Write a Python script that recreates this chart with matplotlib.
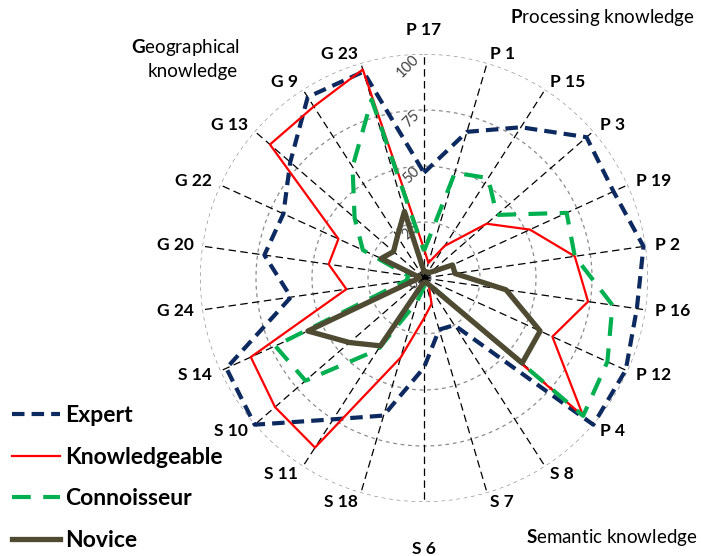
import numpy as np
import matplotlib
matplotlib.use("Agg")
import matplotlib.pyplot as plt
from matplotlib.lines import Line2D

plt.rcParams['font.family'] = ['Lato', 'DejaVu Sans']
plt.rcParams['mathtext.fontset'] = 'custom'
plt.rcParams['mathtext.rm'] = 'Lato'
plt.rcParams['mathtext.bf'] = 'Lato:bold'


categories = ['P 17', 'P 1', 'P 15', 'P 3', 'P 19', 'P 2', 'P 16', 'P 12', 'P 4',
              'S 8', 'S 7', 'S 6', 'S 18', 'S 11', 'S 10', 'S 14',
              'G 24', 'G 20', 'G 22', 'G 13', 'G 9', 'G 23']

expert = [47, 68, 80, 96, 93, 99, 96, 99, 100, 25, 24, 40, 64, 75, 100, 97,
          60, 72, 69, 79, 96, 96]
knowledgeable = [13, 7, 17, 37, 52, 68, 74, 63, 94, 4, 12, 18, 37, 90, 88, 85,
                 35, 43, 42, 91, 91, 97]
connoisseur = [12, 49, 53, 43, 70, 68, 85, 90, 94, 2, 2, 4, 11, 38, 70, 73,
               8, 7, 30, 41, 59, 83]
novice = [3, 3, 3, 4, 14, 14, 37, 57, 58, 3, 2, 2, 3, 36, 44, 57,
          3, 2, 21, 18, 22, 31]

ticks = [0, 25, 50, 75, 100]


#######################################################################################

fig = plt.figure(figsize=(7.01, 5.56), dpi=100)
ax = fig.add_axes([200 / 701, 54 / 556, 448 / 701, 448 / 556], projection='polar')
ax.set_theta_zero_location('N')
ax.set_theta_direction(-1)
ax.set_ylim(0, 100)
ax.axis('off')

n = len(categories)
angles = np.arange(n) * 2 * np.pi / n

# rings
t = np.linspace(0, 2 * np.pi, 400)
for r in ticks[1:]:
    ax.plot(t, np.full_like(t, r), color='#8c8c8c', lw=0.9, dashes=(3, 3), zorder=1)

# spokes
for a in angles:
    ax.plot([a, a], [0, 100], color='black', lw=0.9, dashes=(6, 3.5), zorder=2)


def closed(values):
    return np.append(angles, angles[0]), np.append(values, values[0])


a, v = closed(expert)
ax.plot(a, v, color='#0d2a60', lw=3, dashes=(3, 1.7), zorder=3, clip_on=False)
a, v = closed(knowledgeable)
ax.plot(a, v, color='#ff0000', lw=1.6, zorder=4, clip_on=False)
a, v = closed(connoisseur)
ax.plot(a, v, color='#00b050', lw=3, dashes=(4.5, 3), zorder=5, clip_on=False)
a, v = closed(novice)
ax.plot(a, v, color='#4f4b33', lw=3.8, zorder=6, clip_on=False)

# category labels
for a, name in zip(angles, categories):
    s, c = np.sin(a), np.cos(a)
    if abs(s) < 0.05:
        ha = 'center'
    elif s > 0:
        ha = 'left'
    else:
        ha = 'right'
    va = 'center'
    r = 104
    if c > 0.99:
        va = 'bottom'
        r = 107
    elif c < -0.99:
        r = 121
    ax.text(a, r, name, ha=ha, va=va, fontsize=12.5, fontweight='bold', clip_on=False)

# radial tick labels
for r in ticks:
    ax.annotate(str(r), xy=(0, r), xytext=(-5, -2), textcoords='offset points',
                rotation=45, rotation_mode='anchor', ha='right', va='center',
                fontsize=10.5, color='#404040')

# group titles
fig.text(695 / 701, 1 - 18 / 556, r'$\mathbf{P}$rocessing knowledge', ha='right', va='center', fontsize=13.5)
fig.text(240 / 701, 1 - 47 / 556, r'$\mathbf{G}$eographical', ha='right', va='center', fontsize=13.5)
fig.text(238 / 701, 1 - 72 / 556, 'knowledge', ha='right', va='center', fontsize=13.5)
fig.text(697 / 701, 1 - 537 / 556, r'$\mathbf{S}$emantic knowledge', ha='right', va='center', fontsize=13.5)

handles = [
    Line2D([], [], color='#0d2a60', lw=3, dashes=(3, 1.7)),
    Line2D([], [], color='#ff0000', lw=1.6),
    Line2D([], [], color='#00b050', lw=3, dashes=(4.5, 3)),
    Line2D([], [], color='#4f4b33', lw=3.8),
]
fig.legend(handles, ['Expert', 'Knowledgeable', 'Connoisseur', 'Novice'],
           loc='lower left', bbox_to_anchor=(-6 / 701, -0.024), frameon=False,
           prop={'weight': 'bold', 'size': 16.5}, handlelength=2.1,
           handletextpad=0.22, labelspacing=0.9, borderpad=0.3)

fig.savefig('out.png', dpi=100)
